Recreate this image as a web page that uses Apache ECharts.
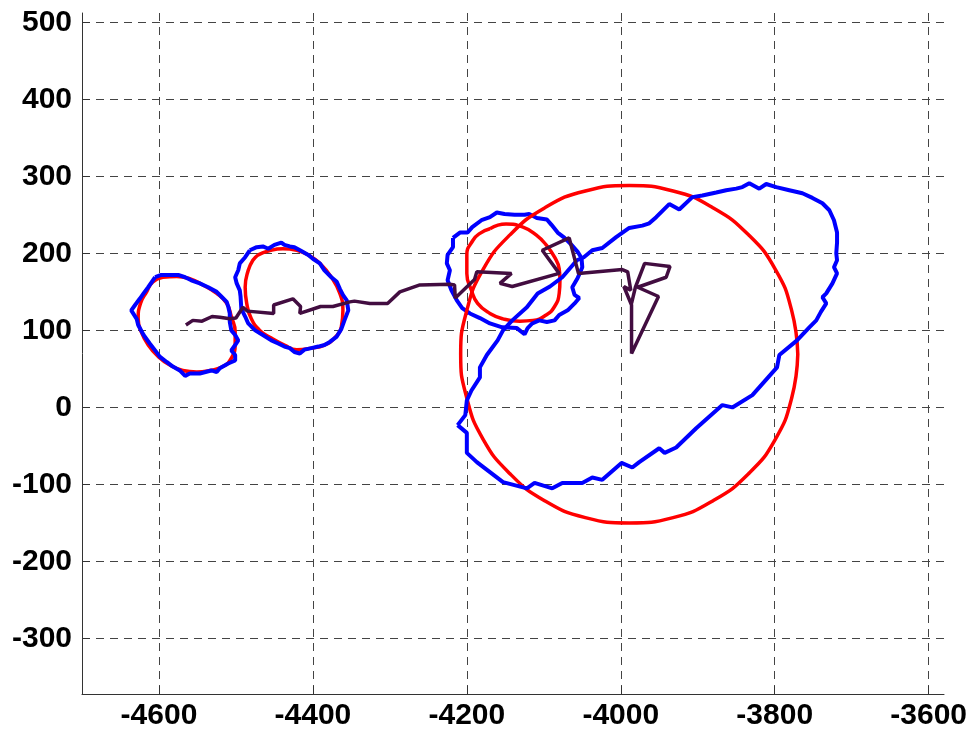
<!DOCTYPE html>
<html>
<head>
<meta charset="utf-8">
<script src="https://cdn.jsdelivr.net/npm/echarts@6/dist/echarts.min.js"></script>
<style>
  html, body { margin: 0; padding: 0; background: #fff; }
  #main { width: 970px; height: 732px; }
</style>
</head>
<body>
<div id="main"></div>
<script>
// fitted ellipses (red)
var redA = [[-4595,169],[-4577,170],[-4560,167],[-4543,159],[-4525,148],[-4512,135],[-4506,118],[-4501,98],[-4501,81],[-4506,64],[-4517,53],[-4534,48],[-4551,46],[-4569,48],[-4586,55],[-4601,66],[-4614,81],[-4623,98],[-4627,115],[-4624,135],[-4616,150],[-4608,163],[-4595,169]];
var redB = [[-4471,198],[-4458,203],[-4439,206],[-4421,204],[-4406,198],[-4391,187],[-4376,169],[-4365,148],[-4361,126],[-4363,105],[-4372,90],[-4385,81],[-4402,77],[-4421,75],[-4437,81],[-4454,90],[-4469,100],[-4480,115],[-4486,135],[-4488,156],[-4484,178],[-4478,191],[-4471,198]];
var redC = [[-4170,232],[-4149,238],[-4127,234],[-4110,224],[-4097,211],[-4086,195],[-4080,180],[-4079,165],[-4080,148],[-4086,131],[-4097,120],[-4114,113],[-4131,112],[-4153,115],[-4170,122],[-4186,135],[-4194,152],[-4200,174],[-4200,198],[-4192,217],[-4183,226],[-4170,232]];
var redD = [[-3770,69],[-3778,126],[-3799,179],[-3834,224],[-3880,259],[-3932,281],[-3989,288],[-4046,281],[-4099,259],[-4144,224],[-4179,179],[-4200,126],[-4208,69],[-4200,12],[-4179,-41],[-4144,-86],[-4099,-121],[-4046,-143],[-3989,-150],[-3932,-143],[-3880,-121],[-3834,-86],[-3799,-41],[-3778,12],[-3770,69]];

// measured contours (blue)
var blueA = [[-4605,169],[-4597,172],[-4586,172],[-4575,172],[-4566,169],[-4558,165],[-4547,161],[-4536,156],[-4525,150],[-4519,144],[-4512,137],[-4510,131],[-4508,122],[-4508,111],[-4506,100],[-4501,94],[-4497,87],[-4501,81],[-4506,74],[-4501,68],[-4499,66],[-4501,61],[-4510,57],[-4521,51],[-4525,46],[-4532,48],[-4547,44],[-4560,44],[-4566,41],[-4573,48],[-4582,53],[-4590,59],[-4599,66],[-4605,74],[-4612,83],[-4620,94],[-4627,107],[-4629,115],[-4636,126],[-4631,133],[-4625,141],[-4620,148],[-4614,156],[-4605,169]];
var blueB = [[-4482,204],[-4473,208],[-4465,209],[-4458,206],[-4450,211],[-4441,214],[-4437,211],[-4430,209],[-4424,208],[-4415,203],[-4406,198],[-4400,193],[-4391,187],[-4385,178],[-4376,169],[-4369,163],[-4365,154],[-4361,146],[-4356,139],[-4354,126],[-4359,113],[-4363,102],[-4369,92],[-4378,85],[-4385,81],[-4393,79],[-4402,77],[-4411,75],[-4417,70],[-4424,72],[-4430,77],[-4437,79],[-4445,83],[-4454,87],[-4465,94],[-4475,100],[-4484,109],[-4488,118],[-4493,128],[-4494,144],[-4495,152],[-4499,161],[-4501,169],[-4497,178],[-4495,187],[-4488,195],[-4482,204]];
var blueC = [[-4218,220],[-4209,227],[-4199,227],[-4193,234],[-4181,243],[-4170,247],[-4161,253],[-4151,251],[-4138,250],[-4125,250],[-4119,251],[-4109,246],[-4096,244],[-4090,237],[-4082,227],[-4073,220],[-4064,211],[-4056,202],[-4051,194],[-4050,182],[-4056,168],[-4063,156],[-4060,146],[-4054,142],[-4060,135],[-4069,126],[-4080,120],[-4086,113],[-4096,111],[-4106,113],[-4115,109],[-4121,103],[-4125,95],[-4135,103],[-4154,104],[-4170,109],[-4183,116],[-4196,122],[-4206,129],[-4213,139],[-4220,152],[-4225,165],[-4222,178],[-4226,187],[-4225,198],[-4218,208],[-4218,220]];
var blueD = [[-4212,-23],[-4202,-10],[-4200,9],[-4194,22],[-4183,39],[-4183,52],[-4174,68],[-4160,87],[-4153,100],[-4141,113],[-4122,130],[-4108,148],[-4092,157],[-4076,169],[-4057,191],[-4048,195],[-4037,204],[-4024,207],[-4006,221],[-3989,233],[-3972,236],[-3963,239],[-3954,247],[-3937,264],[-3924,257],[-3907,273],[-3894,275],[-3876,279],[-3863,282],[-3850,284],[-3842,286],[-3833,291],[-3820,284],[-3811,290],[-3798,286],[-3781,282],[-3764,278],[-3751,272],[-3738,265],[-3729,256],[-3723,243],[-3719,227],[-3719,214],[-3720,200],[-3719,191],[-3723,182],[-3719,174],[-3725,161],[-3733,148],[-3738,143],[-3733,135],[-3740,124],[-3746,113],[-3755,104],[-3771,87],[-3794,68],[-3797,52],[-3829,16],[-3855,0],[-3868,3],[-3902,-27],[-3928,-52],[-3943,-59],[-3950,-53],[-3976,-71],[-3985,-78],[-3999,-72],[-4024,-94],[-4037,-91],[-4050,-98],[-4076,-98],[-4089,-105],[-4112,-98],[-4122,-105],[-4153,-97],[-4170,-84],[-4187,-71],[-4200,-59],[-4200,-33],[-4212,-23]];

// track (dark purple)
var track = [[-4565,107],[-4556,113],[-4544,112],[-4531,118],[-4521,117],[-4508,115],[-4500,116],[-4491,130],[-4485,125],[-4451,122],[-4451,133],[-4426,141],[-4416,131],[-4417,122],[-4390,131],[-4374,131],[-4352,137],[-4346,138],[-4326,135],[-4303,135],[-4287,150],[-4261,159],[-4222,160],[-4216,159],[-4215,142],[-4190,166],[-4187,176],[-4142,174],[-4157,161],[-4141,157],[-4080,174],[-4102,204],[-4067,220],[-4055,174],[-3998,179],[-3991,176],[-3987,152],[-3996,157],[-3986,133],[-3986,70],[-3951,144],[-3978,156],[-3941,169],[-3936,183],[-3969,187],[-3981,156],[-3986,135]];

var xMin = -4700, xMax = -3580;
var yMin = -372, yMax = 512;

var chart = echarts.init(document.getElementById('main'));

function line(data, color, width, smooth) {
    return {
        type: 'line',
        data: data,
        showSymbol: false,
        smooth: smooth,
        lineStyle: {color: color, width: width},
        z: 2
    };
}

var labelStyle = {
    color: '#000',
    fontFamily: 'Liberation Sans',
    fontWeight: 'bold',
    fontSize: 30,
    formatter: function (v) { return String(v); }
};
var gridLine = {
    show: true,
    showMinLine: false,
    showMaxLine: false,
    lineStyle: {color: '#444', width: 1, type: [8, 6]}
};

var option = {
    animation: false,
    backgroundColor: '#fff',
    grid: {left: 82, right: 23, top: 13, bottom: 38, containLabel: false},
    xAxis: {
        type: 'value',
        min: xMin,
        max: xMax,
        splitNumber: 5,
        axisLine: {onZero: false, lineStyle: {color: '#333', width: 1}},
        axisTick: {inside: true, length: 8, lineStyle: {color: '#333'}},
        axisLabel: Object.assign({margin: 7, showMinLabel: false, showMaxLabel: false}, labelStyle),
        splitLine: gridLine
    },
    yAxis: {
        type: 'value',
        min: yMin,
        max: yMax,
        splitNumber: 9,
        axisLine: {show: true, onZero: false, lineStyle: {color: '#333', width: 1}},
        axisTick: {show: true, inside: true, length: 8, lineStyle: {color: '#333'}},
        axisLabel: Object.assign({margin: 10, showMinLabel: false, showMaxLabel: false}, labelStyle),
        splitLine: gridLine
    },
    series: [
        line(redA, '#ff0000', 3.5, true),
        line(blueA, '#0000ff', 4, false),
        line(redB, '#ff0000', 3.5, true),
        line(blueB, '#0000ff', 4, false),
        line(redC, '#ff0000', 3.5, true),
        line(blueC, '#0000ff', 4, false),
        line(redD, '#ff0000', 3.5, true),
        line(blueD, '#0000ff', 4, false),
        line(track, '#420d40', 3.5, false)
    ]
};

chart.setOption(option);
</script>
</body>
</html>
